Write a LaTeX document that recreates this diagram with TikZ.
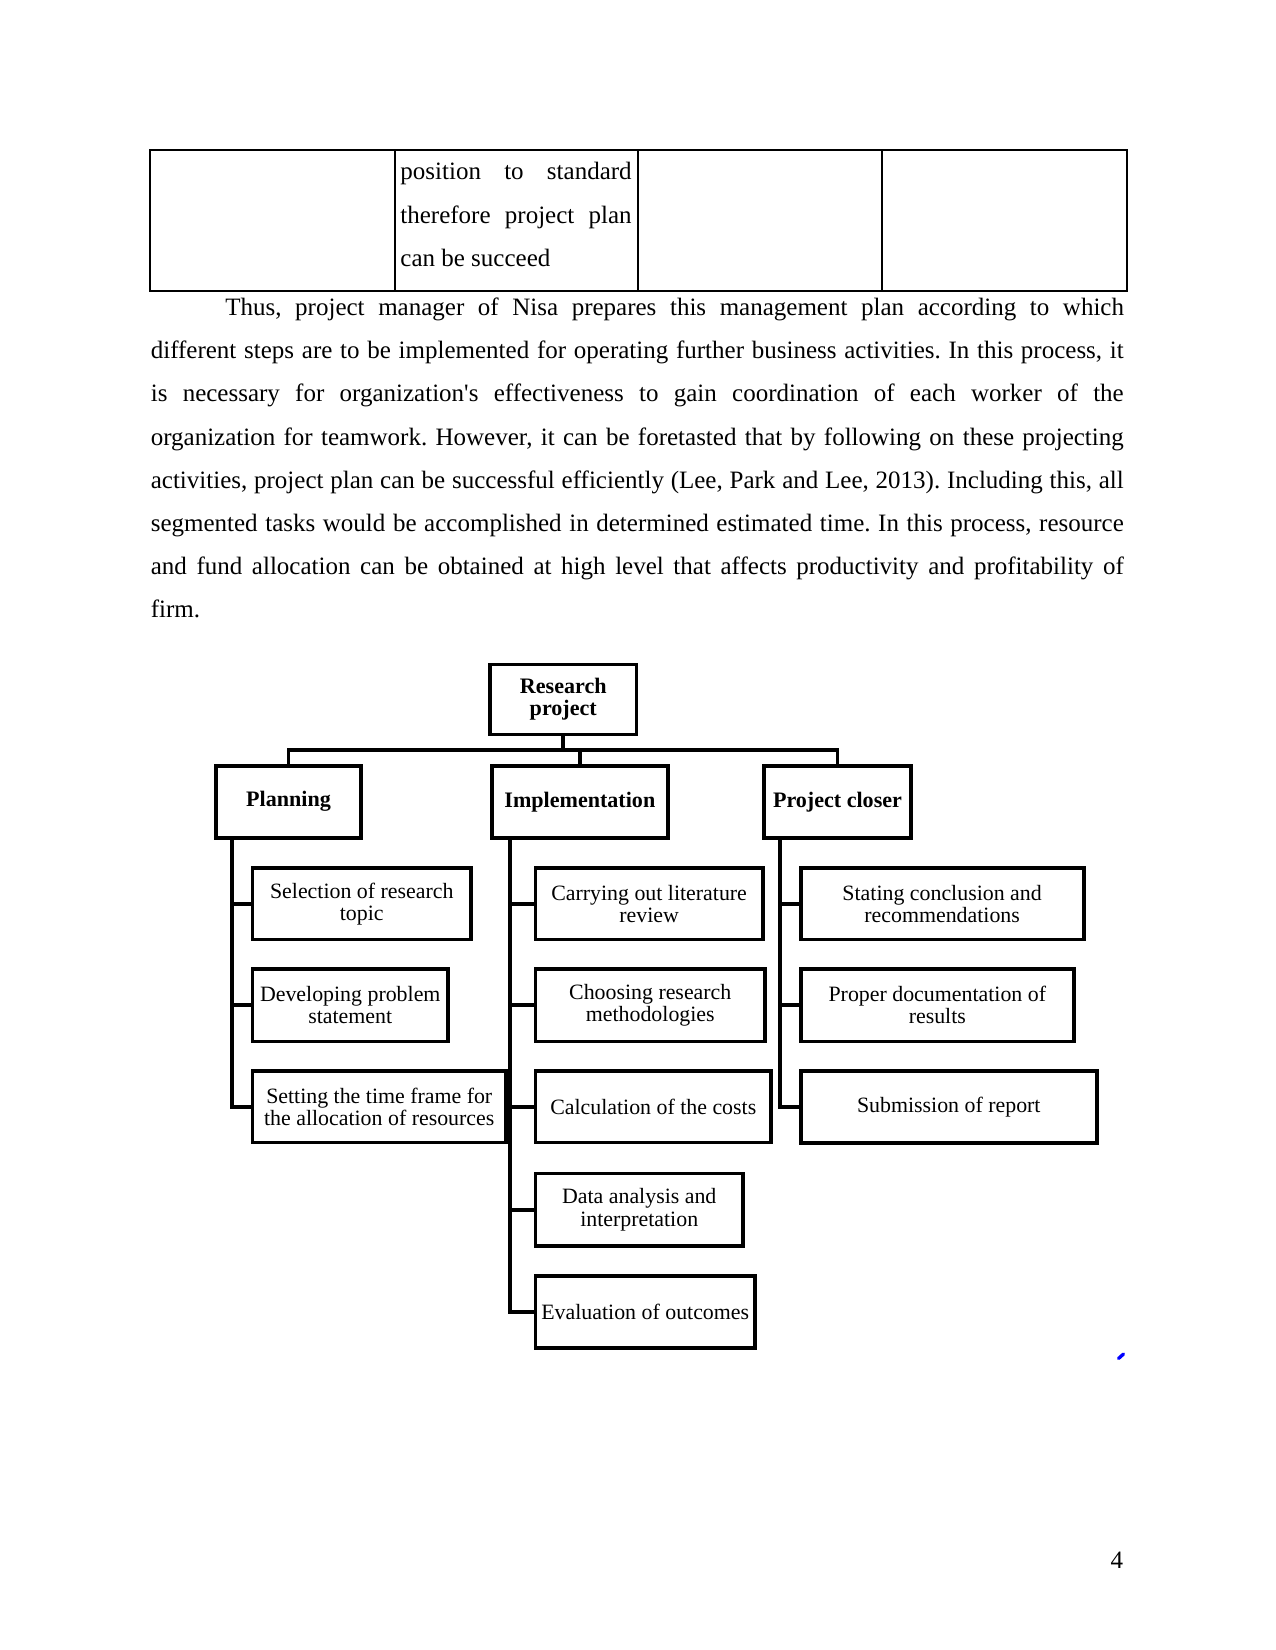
\documentclass[tikz,border=0pt]{standalone}
\usepackage{fontspec}
\setmainfont{Liberation Serif}
\newfontfamily\nomap{Liberation Serif}
\newcommand\diagbox[7]{\node[#6, minimum width={(#4-#2)*0.48pt}, minimum height={(#5-#3)*0.48pt}] (#1) at ({(#2+#4)/2},{(#3+#5)/2}) {#7};}
\frenchspacing
\begin{document}
\begin{tikzpicture}[x=0.48pt,y=-0.48pt,
  box/.style={draw, line width=1.9pt, inner sep=1pt, align=center, line join=miter, font=\fontsize{10.5}{10.6}\selectfont},
  hbox/.style={box, font=\fontsize{10.6}{10.7}\selectfont\bfseries},
  conn/.style={line width=1.8pt, line join=miter},
  tline/.style={line width=0.6pt},
  body/.style={anchor=base west, inner sep=0pt, font=\fontsize{12}{14}\selectfont}]
\useasboundingbox (0,0) rectangle (1275,1650);

% table fragment
\draw[tline] (150,150) rectangle (1127,291);
\draw[tline] (395,150) -- (395,291);
\draw[tline] (638,150) -- (638,291);
\draw[tline] (882,150) -- (882,291);
\node[body] (t1) at (400,180) {\makebox[111pt][s]{position to standard}};
\node[body] (t2) at (400,223.1) {\makebox[111pt][s]{therefore project plan}};
\node[body] (t3) at (400,266.2) {can be succeed};

% paragraph
\node[body] (l1) at (225,315.5) {\makebox[431.3pt][s]{Thus, project manager of Nisa prepares this management plan according to which}};
\node[body] (l2) at (150.4,358.7) {\makebox[467pt][s]{different steps are to be implemented for operating further business activities. In this process, it}};
\node[body] (l3) at (150.4,401.8) {\makebox[467pt][s]{is necessary for organization{\nomap'}s effectiveness to gain coordination of each worker of the}};
\node[body] (l4) at (150.4,445) {\makebox[467pt][s]{organization for teamwork. However, it can be foretasted that by following on these projecting}};
\node[body] (l5) at (150.4,488.1) {\makebox[467pt][s]{activities, project plan can be successful efficiently (Lee, Park and Lee, 2013). Including this, all}};
\node[body] (l6) at (150.4,531.3) {\makebox[467pt][s]{segmented tasks would be accomplished in determined estimated time. In this process, resource}};
\node[body] (l7) at (150.4,574.4) {\makebox[467pt][s]{and fund allocation can be obtained at high level that affects productivity and profitability of}};
\node[body] (l8) at (150.4,617.5) {firm.};

% diagram boxes
\diagbox{rp}{490}{664.5}{636.5}{734.5}{hbox}{Research\\project}
\diagbox{plan}{216}{765.7}{361}{837.7}{hbox}{Planning}
\diagbox{impl}{491.7}{765.7}{668}{837.7}{hbox}{Implementation}
\diagbox{pc}{764}{765.7}{911}{838}{hbox}{Project closer}

\diagbox{s1}{252.5}{868}{471}{939.5}{box}{Selection of research\\topic}
\diagbox{s2}{252.5}{969}{448}{1041.5}{box}{Developing problem\\statement}
\diagbox{s3}{252.5}{1071}{506}{1142.5}{box}{Setting the time frame for\\the allocation of resources}

\diagbox{i1}{535.5}{868}{762.7}{939.5}{box}{Carrying out literature\\review}
\diagbox{i2}{535.5}{969}{765}{1041.5}{box}{Choosing research\\methodologies}
\diagbox{i3}{535.5}{1071}{771}{1142.5}{box}{Calculation of the costs}
\diagbox{i4}{535.5}{1173.5}{743}{1246}{box}{Data analysis and\\interpretation}
\diagbox{i5}{535.5}{1276}{755}{1348}{box}{Evaluation of outcomes}

\diagbox{c1}{800.6}{868}{1083.6}{939.5}{box}{Stating conclusion and\\recommendations}
\diagbox{c2}{800.6}{969}{1074}{1041.5}{box}{Proper documentation of\\results}
\diagbox{c3}{800.6}{1071}{1097}{1143}{box}{Submission of report}

% bus
\coordinate (bus) at (563,750);
\draw[conn] (rp.south) -- (rp.south |- bus);
\draw[conn] (plan.north) -- (plan.north |- bus) -- (pc.north |- bus) -- (pc.north);
\draw[conn] (impl.north) -- (impl.north |- bus);

% spines
\coordinate (pSp) at (232,837.7);
\coordinate (iSp) at (510,837.7);
\coordinate (cSp) at (780,838);
\draw[conn] (pSp) |- (s3.west);
\draw[conn] (pSp |- s1.west) -- (s1.west);
\draw[conn] (pSp |- s2.west) -- (s2.west);
\draw[conn] (iSp) |- (i5.west);
\draw[conn] (iSp |- i1.west) -- (i1.west);
\draw[conn] (iSp |- i2.west) -- (i2.west);
\draw[conn] (iSp |- i3.west) -- (i3.west);
\draw[conn] (iSp |- i4.west) -- (i4.west);
\draw[conn] (cSp) |- (c3.west);
\draw[conn] (cSp |- c1.west) -- (c1.west);
\draw[conn] (cSp |- c2.west) -- (c2.west);

% stray blue mark
\draw[blue, line width=1.6pt, line cap=round] (1118.5,1358.5) -- (1123.5,1354);

% page number
\node[anchor=base east, inner sep=0pt, font=\fontsize{12}{14}\selectfont] (pg) at (1123.6,1568) {4};
\end{tikzpicture}
\end{document}
